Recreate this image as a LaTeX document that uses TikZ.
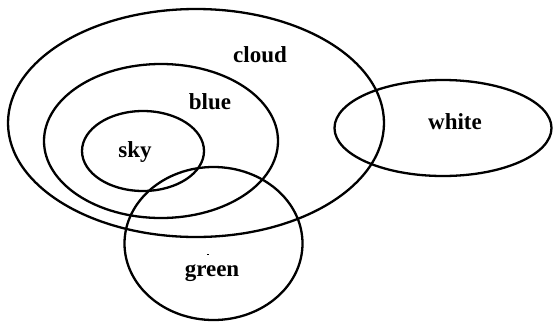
\documentclass[tikz,border=0pt]{standalone}
\usepackage{fontspec}
\setmainfont{Liberation Serif}
\begin{document}
\begin{tikzpicture}[x=1pt,y=-1pt,
  setline/.style={draw=black,line width=2.3pt},
  lbl/.style={font=\fontsize{23}{26}\selectfont\bfseries,inner sep=0pt}]
\useasboundingbox (0,0) rectangle (553,322);
\draw[setline] (196,123) ellipse [x radius=188,y radius=114];
\draw[setline] (161,141) ellipse [x radius=117,y radius=77];
\draw[setline] (143,151) ellipse [x radius=61,y radius=40];
\draw[setline] (443,128) ellipse [x radius=108.5,y radius=48];
\draw[setline] (213.5,243.5) ellipse [x radius=89,y radius=76.5];
\node[lbl] (cloud) at (260,55) {cloud};
\node[lbl] (blue) at (210,102) {blue};
\node[lbl] (sky) at (135,152) {sky};
\node[lbl] (white) at (455,122) {white};
\node[lbl] (green) at (212,273) {green};
\fill[black] (207,253.5) rectangle (209,254.5);
\end{tikzpicture}
\end{document}
